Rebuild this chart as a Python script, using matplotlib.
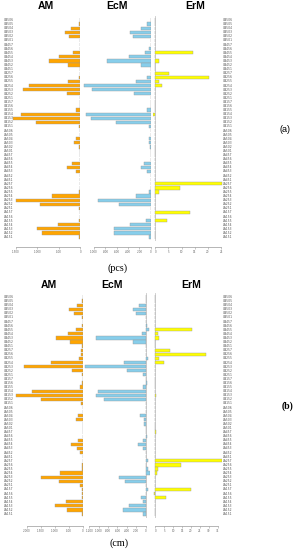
import matplotlib
matplotlib.use('Agg')
import matplotlib.pyplot as plt
from matplotlib import transforms

# row labels, top to bottom
rows = ['UA506', 'UA505', 'UA504', 'UA503', 'UA502', 'UA501',
        'UA457', 'UA456', 'UA455', 'UA454', 'UA453', 'UA452', 'UA451',
        'UA257', 'UA256', 'UA255', 'UA254', 'UA253', 'UA252', 'UA251',
        'UA157', 'UA156', 'UA155', 'UA154', 'UA153', 'UA152', 'UA151',
        'LA506', 'LA505', 'LA504', 'LA503', 'LA502', 'LA501',
        'LA457', 'LA456', 'LA455', 'LA454', 'LA453', 'LA452', 'LA451',
        'LA257', 'LA256', 'LA255', 'LA254', 'LA253', 'LA252', 'LA251',
        'LA157', 'LA156', 'LA155', 'LA154', 'LA153', 'LA152', 'LA151']

# (a) counts (pcs)
am_pcs = [0, -40, -210, -350, -265, -10,
          0, -10, -170, -510, -730, -295, -20,
          -10, -40, -295, -1195, -1335, -325, -10,
          0, 0, -95, -1395, -1565, -1040, -40,
          0, 0, -100, -150, -45, 0,
          0, 0, -195, -320, -110, -15, 0,
          0, -5, -45, -665, -1500, -940, -40,
          0, 0, -40, -520, -1000, -890, -25]
ecm_pcs = [0, -65, -180, -360, -310, 0,
           0, -35, -110, -390, -780, -180, 0,
           0, -65, -260, -1170, -1035, -300, 0,
           0, 0, -65, -1145, -1050, -620, -35,
           0, 0, -35, -35, -15, 0,
           0, 0, -125, -180, -65, 0, 0,
           0, 0, -35, -270, -925, -560, 0,
           0, 0, -80, -365, -650, -650, -35]
erm_pcs = [0, 0, 0, 0, 0, 0,
           0, 0, 14.2, 0, 1.3, 0, 0,
           5.3, 20.3, 1.3, 2.4, 0, 0, 0,
           0, 0, 0, -0.8, 0, 0, 0,
           0, 0, 0, 0, 0, 0,
           0, 0, 0, 0, 0, 0, 0,
           25.4, 9.3, 1.3, 0, 0, 0, 0,
           13.3, 0, 4.4, 0, 0, 0, 0]

# (b) length (cm)
am_cm = [0, -10, -200, -490, -310, -15,
         0, -15, -225, -525, -930, -430, -10,
         -60, -40, -120, -1120, -2095, -390, -15,
         0, -10, -85, -1810, -2390, -1465, -50,
         0, 0, -145, -225, 0, 0,
         0, 0, -165, -415, -190, -85, 0,
         0, -20, -35, -810, -1490, -835, -105,
         -10, -10, -30, -595, -975, -570, -10]
ecm_cm = [0, 0, -140, -260, -205, 0,
          0, 25, 80, -70, -1055, -260, 0,
          0, 0, 55, -460, -1285, -390, -50,
          0, 20, -50, -1020, -1050, -880, 0,
          0, 0, -120, -35, -40, 0,
          0, 35, -65, -155, -65, 0, 0,
          55, 0, 50, 85, -575, -440, 0,
          55, 0, -100, -65, -350, -490, -65]
erm_cm = [0, 0, 0, 0, 0, 0,
          0, 0, 20.8, 1.5, 1.9, 0, 0,
          8.4, 28.7, 1.9, 4.9, 0, 0, 0,
          0, 0, 0, 0, 0.5, 0, 0,
          0, 0, 0, 0, 0, 0,
          0.6, 0, 0, 0, 0, 0, 0,
          37.5, 14.6, 1.5, 1.0, 0, 0, 0,
          20.0, -0.9, 6.2, 0, 0, 0, 0]

W, H = 296, 550
fig = plt.figure(figsize=(W / 100, H / 100), dpi=100)


def rect(x0, x1, y0, y1):
    return [x0 / W, 1 - y1 / H, (x1 - x0) / W, (y1 - y0) / H]


def panel(x0, x1, y0, y1, values, color, xlim, ticks, outward):
    ax = fig.add_axes(rect(x0, x1, y0, y1))
    ax.patch.set_visible(False)
    ax.axvline(0, color='#c8c8c8', lw=0.6, zorder=0)
    ax.barh(range(len(values)), values, height=0.8, color=color,
            edgecolor='#9a9a9a', linewidth=0.3)
    ax.set_xlim(xlim)
    ax.set_ylim(len(values), -1)
    ax.set_yticks([])
    ax.set_xticks(ticks)
    ax.set_xticklabels([str(t) for t in ticks])
    for s in ['top', 'right', 'left']:
        ax.spines[s].set_visible(False)
    ax.spines['bottom'].set_position(('outward', outward))
    ax.spines['bottom'].set_bounds(ticks[0], ticks[-1])
    ax.spines['bottom'].set_color('#999999')
    ax.spines['bottom'].set_linewidth(0.5)
    ax.tick_params(axis='x', length=1.2, width=0.4, color='#999999', pad=1,
                   labelsize=2.0, labelcolor='#666666')
    return ax


def row_labels(ax, xl, xr):
    tr = transforms.blended_transform_factory(fig.transFigure, ax.transData)
    for i, r in enumerate(rows):
        ax.text(xl / W, i, r, transform=tr, ha='right', va='center',
                fontsize=2.2, color='#555555')
        ax.text(xr / W, i, r, transform=tr, ha='left', va='center',
                fontsize=2.2, color='#555555')


# top block (pcs)
a1 = panel(11.7, 80.5, 15.9, 241.1, am_pcs, '#FFA500', (-1600, 0),
           [-1500, -1000, -500, 0], 4.3)
panel(82.8, 150.8, 15.9, 241.1, ecm_pcs, '#87CEEB', (-1200, 0),
      [-1000, -800, -600, -400, -200, 0], 4.3)
panel(153.2, 222.6, 15.9, 241.1, erm_pcs, '#FFFF00', (-0.8, 25.6),
      [0, 5, 10, 15, 20, 25], 4.3)
row_labels(a1, 13.5, 222.8)

# bottom block (cm)
b1 = panel(13.9, 82.5, 292.9, 518.1, am_cm, '#FFA500', (-2450, 0),
           [-2000, -1500, -1000, -500, 0], 5.5)
panel(84.1, 149.9, 292.9, 518.1, ecm_cm, '#87CEEB', (-1310, 90),
      [-1200, -1000, -800, -600, -400, -200, 0], 5.5)
panel(153.5, 222.2, 292.9, 518.1, erm_cm, '#FFFF00', (-1, 37.6),
      [0, 5, 10, 15, 20, 25, 30, 35], 5.5)
row_labels(b1, 13.5, 222.8)

titles = ['AM', 'EcM', 'ErM']
for t, x in zip(titles, [45.5, 117, 195]):
    fig.text(x / W, 1 - 6.3 / H, t, ha='center', va='center', fontsize=7.5,
             fontweight='bold', family='Liberation Sans')
for t, x in zip(titles, [49, 112.5, 190.8]):
    fig.text(x / W, 1 - 285.5 / H, t, ha='center', va='center', fontsize=7.5,
             fontweight='bold', family='Liberation Sans')

fig.text(118 / W, 1 - 268.5 / H, '(pcs)', ha='center', va='center',
         fontsize=7.3, family='Liberation Serif')
fig.text(119 / W, 1 - 543 / H, '(cm)', ha='center', va='center',
         fontsize=7.3, family='Liberation Serif')
fig.text(285.5 / W, 1 - 129 / H, '(a)', ha='center', va='center',
         fontsize=6.5, family='Liberation Sans')
fig.text(288 / W, 1 - 406 / H, '(b)', ha='center', va='center',
         fontsize=7, fontweight='bold', family='Liberation Serif')

fig.savefig('out.png', dpi=100, facecolor='white')
